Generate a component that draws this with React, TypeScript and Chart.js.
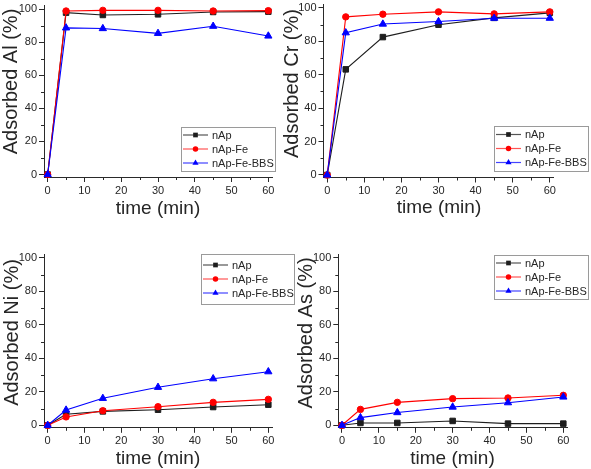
import React, { useEffect, useRef } from 'react';
import { Chart, registerables } from 'chart.js';

Chart.register(...registerables);

// ---------- data ----------
const TIME = [0, 5, 15, 30, 45, 60];
const X_TICKS = [0, 10, 20, 30, 40, 50, 60];
const Y_TICKS = [0, 20, 40, 60, 80, 100];
const X_MINOR = [5, 15, 25, 35, 45, 55];
const Y_MINOR = [10, 30, 50, 70, 90];
const SERIES = ['nAp', 'nAp-Fe', 'nAp-Fe-BBS'];
const X_TITLE = 'time (min)';
const Y_TITLES = ['Adsorbed Al (%)', 'Adsorbed Cr (%)', 'Adsorbed Ni (%)', 'Adsorbed As (%)'];

const AL_NAP = [0, 97.8, 96.4, 96.8, 98.2, 98.4];
const AL_NAPFE = [0, 98.8, 99.2, 99.2, 98.8, 99.0];
const AL_BBS = [0, 88.6, 88.2, 85.3, 89.6, 83.7];

const CR_NAP = [0, 63.2, 82.5, 89.9, 94.0, 97.0];
const CR_NAPFE = [0, 94.6, 96.2, 97.6, 96.4, 97.6];
const CR_BBS = [0, 85.1, 90.3, 91.8, 93.8, 93.8];

const NI_NAP = [0, 6.6, 8.3, 9.3, 10.9, 12.3];
const NI_NAPFE = [0, 5.0, 8.7, 11.1, 13.7, 15.5];
const NI_BBS = [0, 9.1, 16.1, 22.7, 27.8, 32.0];

const AS_NAP = [0, 1.4, 1.4, 2.6, 1.0, 1.0];
const AS_NAPFE = [0, 9.5, 13.7, 15.9, 16.3, 17.9];
const AS_BBS = [0, 4.6, 7.6, 10.9, 13.5, 16.9];

// ---------- styles ----------
const FONT = '"Liberation Sans", Arial, Helvetica, sans-serif';
const LINE_COLORS = ['#1e1e1e', '#ff0000', '#0000ff'];
const LEGEND_LINE_COLORS = ['#555555', '#ff5555', '#4444ff'];
const POINT_STYLES = ['rect', 'circle', 'triangle'];
const POINT_RADII = [3.9, 3.2, 4.2];
const AXIS_COLOR = '#2a2a2a';
const TEXT_COLOR = '#262626';

type Box = { x: number; y: number; w: number; h: number };
type PanelCfg = {
  title: string;
  data: number[][];
  canvas: Box;
  area: { l: number; r: number; t: number; b: number };
  yTitle: { x: number; y: number };
  xTitle: { x: number; y: number };
  legend: Box;
};

const PANELS: PanelCfg[] = [
  {
    title: Y_TITLES[0], data: [AL_NAP, AL_NAPFE, AL_BBS],
    canvas: { x: 0, y: 0, w: 300, h: 235 },
    area: { l: 44, r: 272, t: 5.7, b: 177 },
    yTitle: { x: 17, y: 81.5 }, xTitle: { x: 158, y: 213.5 },
    legend: { x: 181, y: 127, w: 94, h: 44 },
  },
  {
    title: Y_TITLES[1], data: [CR_NAP, CR_NAPFE, CR_BBS],
    canvas: { x: 280, y: 0, w: 311, h: 235 },
    area: { l: 323.5, r: 553.5, t: 4.5, b: 177.5 },
    yTitle: { x: 297.5, y: 83.5 }, xTitle: { x: 439, y: 213 },
    legend: { x: 494, y: 126, w: 94, h: 45 },
  },
  {
    title: Y_TITLES[2], data: [NI_NAP, NI_NAPFE, NI_BBS],
    canvas: { x: 0, y: 235, w: 300, h: 234 },
    area: { l: 44, r: 272, t: 254.5, b: 427.8 },
    yTitle: { x: 17.5, y: 332.5 }, xTitle: { x: 158, y: 464 },
    legend: { x: 201, y: 254, w: 93, h: 50 },
  },
  {
    title: Y_TITLES[3], data: [AS_NAP, AS_NAPFE, AS_BBS],
    canvas: { x: 280, y: 235, w: 311, h: 234 },
    area: { l: 338.3, r: 567, t: 254.5, b: 427.8 },
    yTitle: { x: 312, y: 333 }, xTitle: { x: 452.5, y: 464 },
    legend: { x: 494, y: 255, w: 94, h: 44 },
  },
];

function drawMarker(ctx: CanvasRenderingContext2D, style: string, x: number, y: number, r: number, color: string) {
  ctx.fillStyle = color;
  ctx.beginPath();
  if (style === 'rect') {
    const s = r * Math.SQRT1_2;
    ctx.rect(x - s, y - s, 2 * s, 2 * s);
  } else if (style === 'circle') {
    ctx.arc(x, y, r, 0, Math.PI * 2);
  } else {
    ctx.moveTo(x, y - r);
    ctx.lineTo(x + r * 0.866, y + r * 0.5);
    ctx.lineTo(x - r * 0.866, y + r * 0.5);
    ctx.closePath();
  }
  ctx.fill();
}

function Panel({ cfg }: { cfg: PanelCfg }) {
  const ref = useRef<HTMLCanvasElement | null>(null);

  useEffect(() => {
    const canvas = ref.current;
    if (!canvas) return;
    const cv = cfg.canvas;
    const yWidth = cfg.area.l - cv.x;
    const xHeight = cv.y + cv.h - cfg.area.b;

    const overlay = {
      id: 'overlay' + cfg.title,
      afterDraw(chart: any) {
        const ctx: CanvasRenderingContext2D = chart.ctx;
        const xs = chart.scales.x;
        const ys = chart.scales.y;
        const area = chart.chartArea;
        ctx.save();
        // minor ticks
        ctx.strokeStyle = AXIS_COLOR;
        ctx.lineWidth = 1;
        ctx.beginPath();
        X_MINOR.forEach((v) => {
          const px = Math.round(xs.getPixelForValue(v)) + 0.5;
          ctx.moveTo(px, area.bottom);
          ctx.lineTo(px, area.bottom + 3);
        });
        Y_MINOR.forEach((v) => {
          const py = Math.round(ys.getPixelForValue(v)) + 0.5;
          ctx.moveTo(area.left, py);
          ctx.lineTo(area.left - 3, py);
        });
        ctx.stroke();

        // axis titles
        ctx.fillStyle = TEXT_COLOR;
        ctx.font = `19px ${FONT}`;
        ctx.textAlign = 'center';
        ctx.textBaseline = 'alphabetic';
        ctx.fillText(X_TITLE, cfg.xTitle.x - cv.x, cfg.xTitle.y - cv.y);

        ctx.save();
        ctx.translate(cfg.yTitle.x - cv.x, cfg.yTitle.y - cv.y);
        ctx.rotate(-Math.PI / 2);
        ctx.font = `20px ${FONT}`;
        ctx.fillText(cfg.title, 0, 0);
        ctx.restore();

        // legend
        const lg = cfg.legend;
        const lx = lg.x - cv.x;
        const ly = lg.y - cv.y;
        ctx.strokeStyle = '#9a9a9a';
        ctx.lineWidth = 1;
        ctx.strokeRect(Math.round(lx) + 0.5, Math.round(ly) + 0.5, lg.w, lg.h);
        ctx.font = `11px ${FONT}`;
        ctx.textAlign = 'left';
        ctx.textBaseline = 'middle';
        SERIES.forEach((name, i) => {
          const ry = ly + lg.h / 2 + (i - 1) * 14;
          ctx.strokeStyle = LEGEND_LINE_COLORS[i];
          ctx.lineWidth = 1.2;
          ctx.beginPath();
          ctx.moveTo(lx + 2, ry);
          ctx.lineTo(lx + 27, ry);
          ctx.stroke();
          drawMarker(ctx, POINT_STYLES[i], lx + 14.5, ry, POINT_RADII[i] * 0.85, LINE_COLORS[i]);
          ctx.fillStyle = TEXT_COLOR;
          ctx.fillText(name, lx + 31, ry + 0.5);
        });
        ctx.restore();
      },
    };

    const chart = new Chart(canvas, {
      type: 'line',
      data: {
        datasets: SERIES.map((name, i) => ({
          label: name,
          data: TIME.map((t, k) => ({ x: t, y: cfg.data[i][k] })),
          borderColor: LINE_COLORS[i],
          backgroundColor: LINE_COLORS[i],
          pointBackgroundColor: LINE_COLORS[i],
          pointBorderColor: LINE_COLORS[i],
          borderWidth: 1.1,
          pointStyle: POINT_STYLES[i] as any,
          pointRadius: POINT_RADII[i],
          pointBorderWidth: 1,
          tension: 0,
          clip: false as any,
          order: 3 - i,
        })),
      },
      options: {
        animation: false,
        responsive: false,
        devicePixelRatio: 1,
        events: [],
        layout: {
          autoPadding: false,
          padding: {
            left: 0,
            top: cfg.area.t - cv.y,
            right: cv.x + cv.w - cfg.area.r,
            bottom: 0,
          },
        } as any,
        plugins: {
          legend: { display: false },
          tooltip: { enabled: false },
          title: { display: false },
        },
        scales: {
          x: {
            type: 'linear',
            min: -1,
            max: 61,
            afterBuildTicks: (s: any) => { s.ticks = X_TICKS.map((v) => ({ value: v })); },
            afterFit: (s: any) => {
              s.height = xHeight;
              s.paddingLeft = 0; s.paddingRight = 0; s.paddingTop = 0; s.paddingBottom = 0;
            },
            grid: { display: true, drawOnChartArea: false, drawTicks: true, tickLength: 5, color: AXIS_COLOR, lineWidth: 1 },
            border: { display: true, color: AXIS_COLOR, width: 1 },
            ticks: { color: TEXT_COLOR, font: { family: FONT, size: 11 }, padding: 2, maxRotation: 0, autoSkip: false },
            title: { display: false },
          },
          y: {
            type: 'linear',
            min: -1.5,
            max: 102,
            afterBuildTicks: (s: any) => { s.ticks = Y_TICKS.map((v) => ({ value: v })); },
            afterFit: (s: any) => {
              s.width = yWidth;
              s.paddingLeft = 0; s.paddingRight = 0; s.paddingTop = 0; s.paddingBottom = 0;
            },
            grid: { display: true, drawOnChartArea: false, drawTicks: true, tickLength: 5, color: AXIS_COLOR, lineWidth: 1 },
            border: { display: true, color: AXIS_COLOR, width: 1 },
            ticks: { color: TEXT_COLOR, font: { family: FONT, size: 11 }, padding: 2, autoSkip: false },
            title: { display: false },
          },
        },
      },
      plugins: [overlay],
    });
    return () => chart.destroy();
  }, [cfg]);

  return (
    <canvas
      ref={ref}
      width={cfg.canvas.w}
      height={cfg.canvas.h}
      style={{
        position: 'absolute',
        left: cfg.canvas.x,
        top: cfg.canvas.y,
        width: cfg.canvas.w,
        height: cfg.canvas.h,
      }}
    />
  );
}

export default function App() {
  return (
    <div
      style={{
        position: 'fixed',
        left: 0,
        top: 0,
        width: 591,
        height: 469,
        background: '#ffffff',
        overflow: 'hidden',
      }}
    >
      {PANELS.map((p) => (
        <Panel key={p.title} cfg={p} />
      ))}
    </div>
  );
}
